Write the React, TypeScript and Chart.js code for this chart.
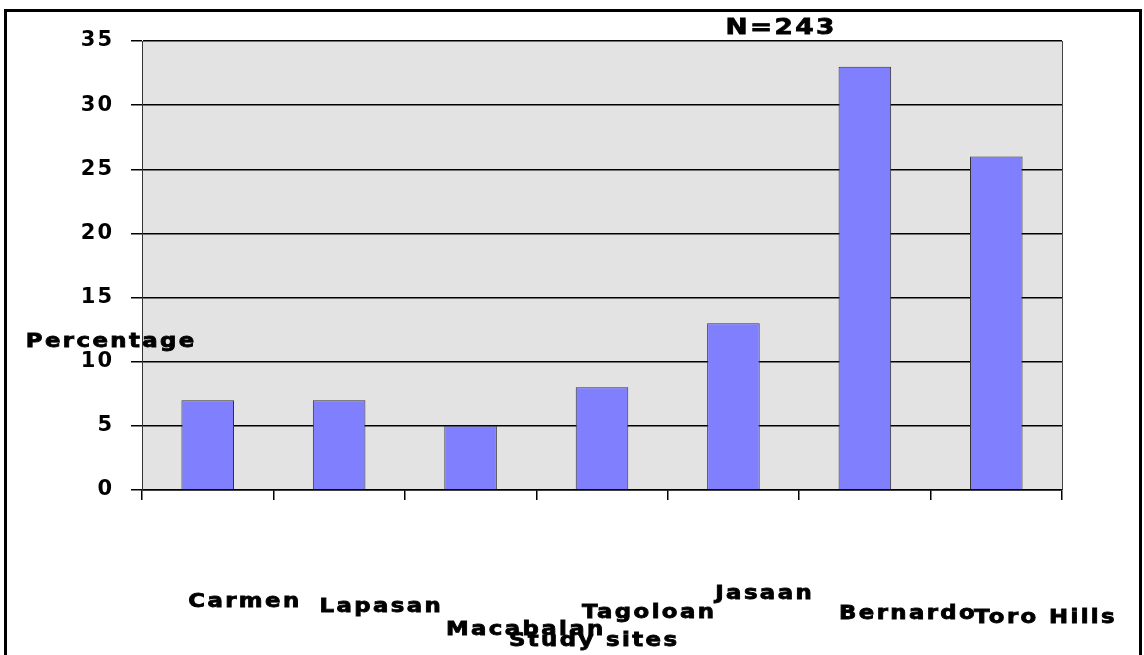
import React, { useEffect, useRef } from "react";
import { Chart, registerables } from "chart.js";

Chart.register(...registerables);

const categories = ["Carmen", "Lapasan", "Macabalan", "Tagoloan", "Jasaan", "Bernardo", "Toro Hills"];
const percentages = [7, 7, 5, 8, 13, 33, 26];
const yTicks = [0, 5, 10, 15, 20, 25, 30, 35];
const chartTitle = "N=243";
const yTitle = "Percentage";
const xTitle = "Study sites";

// label placement relative to each category centre (dx) and absolute middle y
const labelDx = [36, 41, 54, 46, 30, 42, 48];
const labelY = [602, 607, 630, 613, 594, 614, 618];

const FONT = "'DejaVu Sans', 'Liberation Sans', sans-serif";

function wideText(ctx: CanvasRenderingContext2D, text: string, x: number, y: number, size: number, spacing: number) {
  const sx = 1.2;
  ctx.save();
  ctx.font = `bold ${size}px ${FONT}`;
  (ctx as any).letterSpacing = `${spacing}px`;
  ctx.fillStyle = "#000";
  ctx.strokeStyle = "#000";
  ctx.lineWidth = 0.8;
  ctx.textBaseline = "middle";
  ctx.textAlign = "left";
  const w = ctx.measureText(text).width - spacing;
  ctx.translate(x, y);
  ctx.scale(sx, 1);
  ctx.fillText(text, -w / 2, 0);
  ctx.strokeText(text, -w / 2, 0);
  ctx.restore();
}

const decorPlugin = {
  id: "decor",
  beforeDraw(chart: any) {
    const { ctx, chartArea } = chart;
    ctx.save();
    ctx.fillStyle = "#fff";
    ctx.fillRect(0, 0, chart.width, chart.height);
    ctx.fillStyle = "#E3E3E3";
    ctx.fillRect(chartArea.left, chartArea.top, chartArea.right - chartArea.left, chartArea.bottom - chartArea.top);
    ctx.restore();
    (ctx as any).letterSpacing = "2px";
  },
  afterDraw(chart: any) {
    const { ctx, chartArea } = chart;
    (ctx as any).letterSpacing = "0px";
    ctx.save();
    ctx.strokeStyle = "#444";
    ctx.lineWidth = 1;
    ctx.beginPath();
    ctx.moveTo(chartArea.right + 0.5, chartArea.top);
    ctx.lineTo(chartArea.right + 0.5, chartArea.bottom);
    ctx.stroke();
    ctx.strokeStyle = "#000";
    ctx.lineWidth = 3;
    ctx.strokeRect(5.5, 10.5, 1135, 660);
    ctx.restore();

    const xs = chart.scales.x;
    categories.forEach((c, i) => {
      wideText(ctx, c, xs.getPixelForValue(i) + labelDx[i], labelY[i], 19, 2);
    });
    wideText(ctx, xTitle, (chartArea.left + chartArea.right) / 2 - 9, 641, 19, 2);
    wideText(ctx, yTitle, 110, 342, 19, 2);
    wideText(ctx, chartTitle, 780, 28, 22, 2);
  },
};

export default function App() {
  const ref = useRef<HTMLCanvasElement>(null);
  useEffect(() => {
    document.body.style.margin = "0";
    const chart = new Chart(ref.current!, {
      type: "bar",
      data: {
        labels: categories,
        datasets: [
          {
            data: percentages,
            backgroundColor: "#8080FF",
            borderColor: "#333",
            borderWidth: 1,
            barPercentage: 0.4,
            categoryPercentage: 1,
          },
        ],
      },
      options: {
        animation: false,
        responsive: false,
        devicePixelRatio: 1,
        layout: { padding: { left: 0, top: 41, right: 82, bottom: 0 } },
        plugins: { legend: { display: false }, title: { display: false }, tooltip: { enabled: false } },
        scales: {
          x: {
            grid: { offset: true, drawOnChartArea: false, color: "#000", lineWidth: 1.5, tickLength: 10 },
            border: { color: "#000", width: 1.5 },
            ticks: { color: "rgba(0,0,0,0)", font: { size: 10 } },
            afterFit: (s: any) => { s.height = 165; },
          },
          y: {
            min: 0,
            max: 35,
            afterBuildTicks: (s: any) => { s.ticks = yTicks.map((v) => ({ value: v })); },
            grid: { color: "#000", lineWidth: 1.5, tickLength: 11 },
            border: { color: "#333", width: 1 },
            ticks: {
              color: "#000",
              padding: 17,
              font: { family: FONT, weight: "bold", size: 21 },
            },
            afterFit: (s: any) => { s.width = 142; },
          },
        },
      },
      plugins: [decorPlugin],
    });
    return () => chart.destroy();
  }, []);
  return <canvas ref={ref} width={1144} height={655} style={{ display: "block" }} />;
}
